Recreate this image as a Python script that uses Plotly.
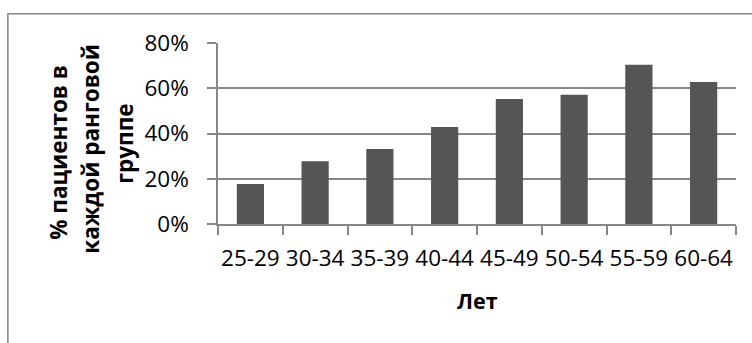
import plotly.graph_objects as go

categories = ["25-29", "30-34", "35-39", "40-44", "45-49", "50-54", "55-59", "60-64"]
values = [17.7, 27.7, 33.2, 42.9, 55.3, 57.1, 70.4, 62.8]
y_ticks = [0, 20, 40, 60, 80]
y_title_lines = ["% пациентов в", "каждой ранговой", "группе"]
x_title = "Лет"

W, H = 752, 343
L, R, T, B = 218, 16.3, 43.3, 119
pw, ph = W - L - R, H - T - B

def px_x(p):
    return (p - L) / pw

def px_y(p):
    return (H - B - p) / ph

FONT = "Open Sans"
GRID = "#868686"

fig = go.Figure(go.Bar(
    x=categories, y=values,
    marker=dict(color="#555555", line=dict(width=0)),
))

fig.update_layout(
    width=W, height=H,
    margin=dict(l=L, r=R, t=T, b=B, pad=0),
    paper_bgcolor="white", plot_bgcolor="white",
    bargap=0.58,
    showlegend=False,
    font=dict(family=FONT, size=22, color="#000000"),
)

fig.update_xaxes(
    type="category",
    showline=True, linecolor=GRID, linewidth=1.5,
    ticks="outside", ticklen=9, tickwidth=1.5, tickcolor=GRID,
    tickson="boundaries",
    tickangle=0,
    showgrid=False,
    tickfont=dict(family=FONT, size=22.5, color="#000"),
    ticklabelstandoff=13,
)

fig.update_yaxes(
    range=[0, 80],
    tickvals=y_ticks,
    ticktext=[f"{v}%" for v in y_ticks],
    showline=True, linecolor=GRID, linewidth=1.5,
    ticks="outside", ticklen=9, tickwidth=1.5, tickcolor=GRID,
    showgrid=True, gridcolor=GRID, gridwidth=1.5,
    zeroline=False,
    tickfont=dict(family=FONT, size=22.5, color="#000"),
    ticklabelstandoff=14,
)

# Y-axis title lines (rotated), placed at measured pixel positions
line_x = [59, 91, 125]
line_y = [152, 149, 144]
for txt, lx, ly in zip(y_title_lines, line_x, line_y):
    fig.add_annotation(
        text=f"<b>{txt}</b>", textangle=-90,
        xref="paper", yref="paper",
        x=px_x(lx), y=px_y(ly), xanchor="center", yanchor="middle",
        showarrow=False,
        font=dict(family=FONT, size=22.5, color="#000"),
    )

fig.add_annotation(
    text=f"<b>{x_title}</b>",
    xref="paper", yref="paper",
    x=px_x(477), y=px_y(300), xanchor="center", yanchor="middle",
    showarrow=False,
    font=dict(family=FONT, size=21.5, color="#000"),
)

# outer chart border
fig.add_shape(
    type="rect", xref="paper", yref="paper",
    x0=px_x(8), y0=px_y(360), x1=px_x(780), y1=px_y(14),
    line=dict(color="#868686", width=1.5), fillcolor="rgba(0,0,0,0)",
    layer="below",
)

fig.write_html("out.html")
